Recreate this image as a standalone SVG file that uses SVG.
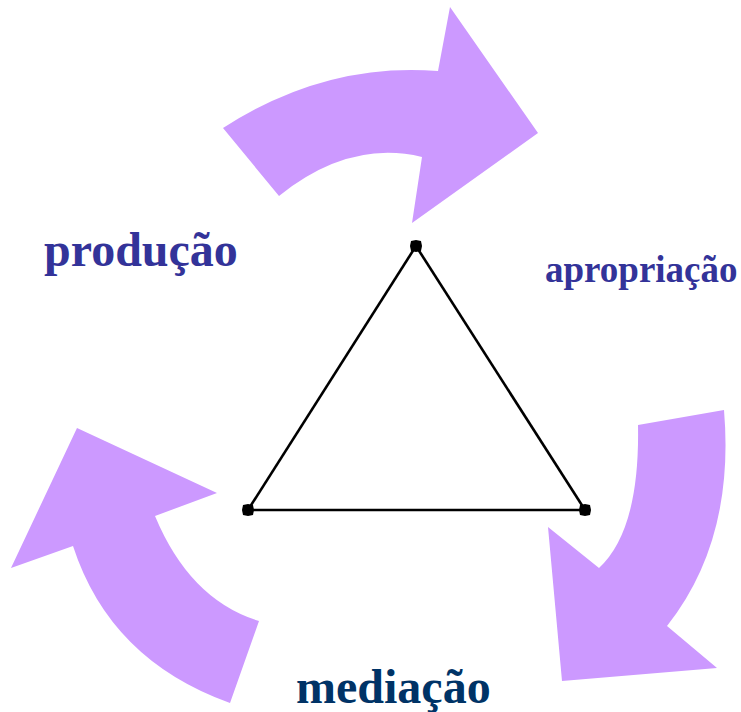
<svg xmlns="http://www.w3.org/2000/svg" width="741" height="712" viewBox="0 0 741 712">
<style>
.arrow{fill:#CC99FF;stroke:none}
.lbl{font-family:"Liberation Serif","Times New Roman",serif;font-weight:bold}
.edge{stroke:#000;stroke-width:2.6;fill:none}
</style>
<defs>
<marker id="dot" viewBox="-6 -6 12 12" markerWidth="12" markerHeight="12" markerUnits="userSpaceOnUse" refX="0" refY="0">
<polygon points="-5,-5 0,-6 5,-5 6,0 5,5 0,6 -5,5 -6,0" fill="#000"/>
</marker>
</defs>
<rect width="741" height="712" fill="#fff"/>
<g id="arrow-top">
<path class="arrow" d="M223,128 Q325,62 438,71 L450,7 L538,133 L412,223 L422,157 Q349.5,139.5 279,196 Z"/>
</g>
<g id="arrow-right">
<path class="arrow" d="M638,425 L724,410 Q735,540 667,626 L717,668 L562,681 L548,527 L599,568 Q640,530 638,425 Z"/>
</g>
<g id="arrow-left">
<path class="arrow" d="M259,621 Q190,600 155,516 L217,493 L77,428 L11,568 L73,546 Q110,660 230,703 Z"/>
</g>
<g id="connectors">
<path class="edge" d="M416,246 L585,510" marker-start="url(#dot)" marker-end="url(#dot)"/>
<path class="edge" d="M585,510 L248,510" marker-end="url(#dot)"/>
<path class="edge" d="M248,510 L416,246"/>
</g>
<g id="producao">
<text class="lbl" x="44" y="266" font-size="48" fill="#333399">produção</text>
</g>
<g id="apropriacao">
<text class="lbl" x="545" y="282" font-size="37" fill="#333399">apropriação</text>
</g>
<g id="mediacao">
<text class="lbl" x="296" y="703" font-size="48" fill="#003366">mediação</text>
</g>
</svg>
